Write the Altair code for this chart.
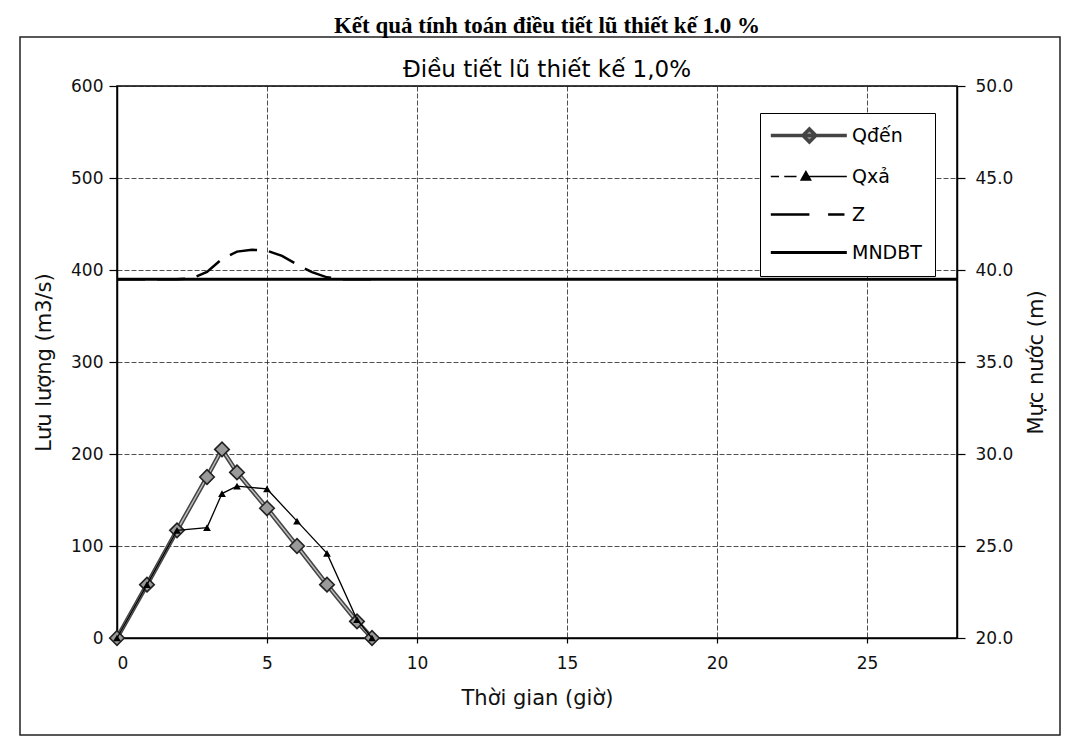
import altair as alt
import pandas as pd

# ---------------- data ----------------
t_q = [0, 1, 2, 3, 3.5, 4, 5, 6, 7, 8, 8.5]
q_den = [0, 58, 117, 175, 205, 180, 141, 100, 58, 18, 0]
q_xa = [0, 58, 117, 120, 157, 165, 162, 127, 92, 20, 0]

t_z = [0, 1, 2, 2.5, 3, 3.5, 4, 4.5, 5, 5.5, 6, 6.5, 7, 7.5, 8, 8.5]
z_level = [39.5, 39.5, 39.5, 39.55, 39.9, 40.6, 41.0, 41.1, 41.05, 40.77,
           40.3, 39.88, 39.6, 39.5, 39.5, 39.5]

t_mndbt = [0, 28]
mndbt = [39.5, 39.5]

series = ["Qđến", "Qxả", "Z", "MNDBT"]
x_ticks = [0, 5, 10, 15, 20, 25]
q_ticks = [0, 100, 200, 300, 400, 500, 600]
z_ticks = [20, 25, 30, 35, 40, 45, 50]

header = "Kết quả tính toán điều tiết lũ thiết kế 1.0 %"
title = "Điều tiết lũ thiết kế 1,0%"

df_den = pd.DataFrame({"t": t_q, "q": q_den, "series": series[0]})
df_xa = pd.DataFrame({"t": t_q, "q": q_xa, "series": series[1]})
df_z = pd.DataFrame({"t": t_z, "z": z_level, "series": series[2]})
df_m = pd.DataFrame({"t": t_mndbt, "z": mndbt, "series": series[3]})

FONT = "DejaVu Sans"

# legend symbols: line + marker drawn as custom paths
sym_expr = (
    "datum.value == 'Qđến' ? 'M-1,0L5.5,0M2.3,-0.55L2.85,0L2.3,0.55L1.75,0Z' : "
    "datum.value == 'Qxả' ? 'M-1,0L-0.3,0M0.15,0L1.2,0M2.0,0L5.5,0M2.0,-0.45L2.42,0.3L1.58,0.3Z' : "
    "datum.value == 'Z' ? 'M-1,0L2.3,0M3.9,0L5.3,0' : 'M-1,0L5.5,0'"
)
sw_expr = (
    "datum.value == 'Qđến' ? 3.5 : datum.value == 'Qxả' ? 1.3 : "
    "datum.value == 'Z' ? 2.5 : 3"
)
fill_expr = "datum.value == 'Qxả' ? 'black' : '#9a9a9a'"

legend = alt.Legend(
    title=None,
    orient="none",
    legendX=643,
    legendY=27,
    direction="vertical",
    symbolType={"expr": sym_expr},
    symbolStrokeWidth={"expr": sw_expr},
    symbolFillColor={"expr": fill_expr},
    symbolSize=547,
    labelFont=FONT,
    labelFontSize=19,
    labelColor="black",
    labelOffset=60,
    rowPadding=18,
    padding=13,
    strokeColor="black",
    fillColor="white",
)

color = alt.Color(
    "series:N",
    scale=alt.Scale(domain=series, range=["#444444", "black", "black", "black"]),
    legend=legend,
)

x_enc = alt.X(
    "t:Q",
    scale=alt.Scale(domain=[0, 28], nice=False),
    axis=alt.Axis(
        values=x_ticks,
        title="Thời gian (giờ)",
        grid=True,
        gridDash=[5, 2],
        gridColor="#222222",
        gridWidth=0.8,
        tickSize=5,
        labelPadding=12,
        titlePadding=16,
    ),
)

y_left = alt.Y(
    "q:Q",
    scale=alt.Scale(domain=[0, 600], nice=False),
    axis=alt.Axis(
        values=q_ticks,
        title="Lưu lượng (m3/s)",
        grid=True,
        gridDash=[5, 2],
        gridColor="#222222",
        gridWidth=0.8,
        tickSize=8,
        labelPadding=6,
        titlePadding=16,
    ),
)

y_right = alt.Y(
    "z:Q",
    scale=alt.Scale(domain=[20, 50], nice=False),
    axis=alt.Axis(
        values=z_ticks,
        format=".1f",
        orient="right",
        title="Mực nước (m)",
        titleAngle=270,
        grid=False,
        tickSize=8,
        labelPadding=10,
        titlePadding=34,
    ),
)

den_line = alt.Chart(df_den).mark_line(strokeWidth=4.5).encode(x=x_enc, y=y_left, color=color)
den_inner = alt.Chart(df_den).mark_line(strokeWidth=1.5, color="#bdbdbd").encode(x=x_enc, y=y_left)
den_pts = alt.Chart(df_den).mark_point(
    shape="diamond", size=210, filled=True, fill="#9a9a9a", stroke="#222222", strokeWidth=1.6, opacity=1
).encode(x=x_enc, y=y_left)
xa_line = alt.Chart(df_xa).mark_line(strokeWidth=1.3).encode(x=x_enc, y=y_left, color=color)
xa_pts = alt.Chart(df_xa).mark_point(
    shape="triangle-up", size=60, filled=True, fill="black", opacity=1
).encode(x=x_enc, y=y_left)

left = alt.layer(den_line, den_inner, den_pts, xa_line, xa_pts)

z_line = alt.Chart(df_z).mark_line(strokeWidth=2.5, strokeDash=[28, 12]).encode(
    x=x_enc, y=y_right, color=color
)
m_line = alt.Chart(df_m).mark_line(strokeWidth=3).encode(x=x_enc, y=y_right, color=color)

right = alt.layer(z_line, m_line)

frame = alt.Chart(pd.DataFrame({"a": [0]})).mark_rect(
    fill=None, stroke="#222222", strokeWidth=1.5
).encode(x=alt.value(-97), x2=alt.value(943), y=alt.value(-49), y2=alt.value(649))

chart = (
    alt.layer(left, right, frame)
    .resolve_scale(y="independent")
    .properties(
        width=840,
        height=552,
        autosize=alt.AutoSizeParams(type="none"),
        padding={"left": 109, "top": 78, "right": 106, "bottom": 103},
        background="white",
        title=alt.TitleParams(
            text=header,
            subtitle=title,
            font="Liberation Serif",
            fontSize=23,
            fontWeight="bold",
            color="black",
            subtitleFont=FONT,
            subtitleFontSize=23,
            subtitleColor="black",
            subtitlePadding=21,
            anchor="middle",
            offset=-46,
            dx=10,
        ),
    )
    .configure_view(stroke="black", strokeWidth=1.5)
    .configure_axis(
        labelFont=FONT,
        titleFont=FONT,
        labelFontSize=17,
        titleFontSize=21,
        titleFontWeight="normal",
        labelColor="#111111",
        titleColor="#111111",
        domainColor="black",
        domainWidth=1.5,
        tickColor="black",
        tickWidth=1.2,
    )
)

chart.save("out.html", embed_options={"renderer": "svg", "actions": False})
